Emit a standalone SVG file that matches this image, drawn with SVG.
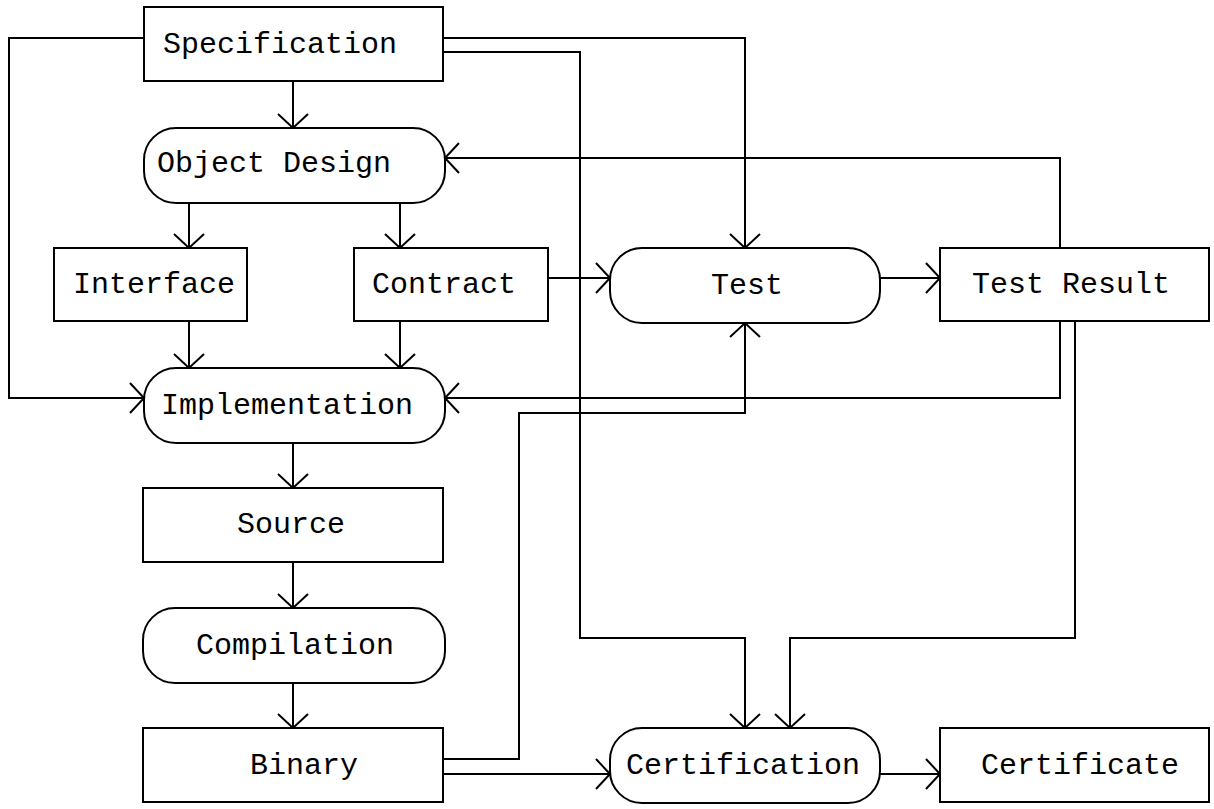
<svg xmlns="http://www.w3.org/2000/svg" width="1214" height="809" viewBox="0 0 1214 809">
  <style>
    .box { fill: #ffffff; stroke: #000000; stroke-width: 2; }
    .lbl { font-family: "Liberation Mono", "DejaVu Sans Mono", monospace; font-size: 30px; fill: #000000; }
    .wire { fill: none; stroke: #000000; stroke-width: 2; marker-end: url(#open); }
  </style>
  <defs>
    <marker id="open" markerUnits="userSpaceOnUse" markerWidth="40" markerHeight="40" viewBox="-20 -20 40 40" refX="0" refY="0" orient="auto" overflow="visible">
      <path d="M-14,-15 L0,0 L-14,15" fill="none" stroke="#000000" stroke-width="2"/>
    </marker>
  </defs>
  <rect width="1214" height="809" fill="#ffffff"/>

  <!-- connectors -->
  <g id="connectors">
    <path class="wire" d="M293,81 V128"/>
    <path class="wire" d="M144,38 H9 V398 H144"/>
    <path class="wire" d="M443,38 H745 V248"/>
    <path class="wire" d="M443,52 H580 V638 H745 V728"/>
    <path class="wire" d="M189,203 V248"/>
    <path class="wire" d="M400,203 V248"/>
    <path class="wire" d="M189,321 V368"/>
    <path class="wire" d="M400,321 V368"/>
    <path class="wire" d="M548,278 H610"/>
    <path class="wire" d="M880,278 H940"/>
    <path class="wire" d="M1060,248 V158 H445"/>
    <path class="wire" d="M1060,321 V398 H445"/>
    <path class="wire" d="M1075,321 V638 H790 V728"/>
    <path class="wire" d="M443,759 H519 V413 H745 V323"/>
    <path class="wire" d="M443,774 H610"/>
    <path class="wire" d="M880,774 H940"/>
    <path class="wire" d="M293,443 V488"/>
    <path class="wire" d="M293,562 V608"/>
    <path class="wire" d="M293,683 V728"/>
  </g>

  <!-- nodes -->
  <g id="specification">
    <rect class="box" x="144" y="7" width="299" height="74"/>
    <text class="lbl" x="163" y="53">Specification</text>
  </g>
  <g id="object-design">
    <rect class="box" x="144" y="128" width="301" height="75" rx="32" ry="32"/>
    <text class="lbl" x="157" y="172">Object Design</text>
  </g>
  <g id="interface">
    <rect class="box" x="54" y="248" width="193" height="73"/>
    <text class="lbl" x="73" y="293">Interface</text>
  </g>
  <g id="contract">
    <rect class="box" x="354" y="248" width="194" height="73"/>
    <text class="lbl" x="372" y="293">Contract</text>
  </g>
  <g id="test">
    <rect class="box" x="610" y="248" width="270" height="75" rx="32" ry="32"/>
    <text class="lbl" x="711" y="294">Test</text>
  </g>
  <g id="test-result">
    <rect class="box" x="940" y="248" width="269" height="73"/>
    <text class="lbl" x="972" y="293">Test Result</text>
  </g>
  <g id="implementation">
    <rect class="box" x="144" y="368" width="301" height="75" rx="32" ry="32"/>
    <text class="lbl" x="161" y="414">Implementation</text>
  </g>
  <g id="source">
    <rect class="box" x="143" y="488" width="300" height="74"/>
    <text class="lbl" x="237" y="533">Source</text>
  </g>
  <g id="compilation">
    <rect class="box" x="143" y="608" width="302" height="75" rx="32" ry="32"/>
    <text class="lbl" x="196" y="654">Compilation</text>
  </g>
  <g id="binary">
    <rect class="box" x="143" y="728" width="300" height="74"/>
    <text class="lbl" x="250" y="774">Binary</text>
  </g>
  <g id="certification">
    <rect class="box" x="610" y="728" width="270" height="75" rx="32" ry="32"/>
    <text class="lbl" x="626" y="774">Certification</text>
  </g>
  <g id="certificate">
    <rect class="box" x="940" y="728" width="269" height="74"/>
    <text class="lbl" x="981" y="774">Certificate</text>
  </g>
</svg>
